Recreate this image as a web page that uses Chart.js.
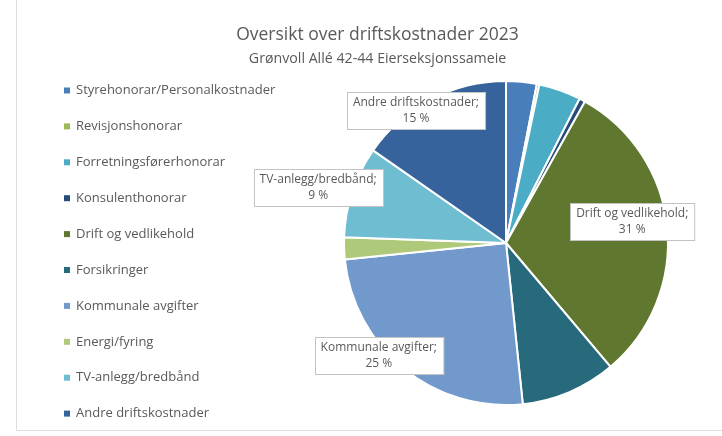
<!DOCTYPE html>
<html lang="no">
<head>
<meta charset="utf-8">
<title>Oversikt over driftskostnader 2023</title>
<script src="https://cdn.jsdelivr.net/npm/chart.js@4.4.1/dist/chart.umd.min.js"></script>
<style>
  html, body { margin: 0; padding: 0; background: #fff; }
  #wrap { position: relative; width: 722px; height: 436px; }
  #frame {
    position: absolute; left: 16px; top: 0; width: 706px; height: 430px;
    border-left: 1px solid #dedede; border-bottom: 1px solid #dedede;
    pointer-events: none;
  }
</style>
</head>
<body>
<div id="wrap">
  <canvas id="kostnader" width="722" height="436"></canvas>
  <div id="frame"></div>
</div>
<script>
// Kategorier og andeler (prosent, lest av diagrammet)
const kategorier = [
  "Styrehonorar/Personalkostnader",
  "Revisjonshonorar",
  "Forretningsførerhonorar",
  "Konsulenthonorar",
  "Drift og vedlikehold",
  "Forsikringer",
  "Kommunale avgifter",
  "Energi/fyring",
  "TV-anlegg/bredbånd",
  "Andre driftskostnader",
];
const andeler = [3.05, 0.25, 4.2, 0.6, 30.7, 9.5, 25.0, 2.2, 9.1, 15.3];
const farger = [
  "#4a7ebb", "#9bbb59", "#4bacc6", "#264a7a", "#5f772e",
  "#276a7c", "#7199cb", "#afc97a", "#6fbdd1", "#37639c",
];

// Hvilke sektorer som får dataetikett (avstand i forhold til radius, dreining i grader)
const etikettPlass = [
  null, null, null, null,
  { avstand: 0.79, drei: -4 },
  null,
  { avstand: 1.05, drei: 9.3 },
  null,
  { avstand: 1.21, drei: -1.9 },
  { avstand: 0.99, drei: -6.6 },
];

const skrift = '"Open Sans", "Noto Sans", sans-serif';
const gra = "#595959";

// Forklaring som egen boks til venstre i oppsettet
function tegnForklaring(chart, boks) {
  const ctx = chart.ctx;
  ctx.save();
  ctx.font = "13px " + skrift;
  ctx.textBaseline = "middle";
  ctx.textAlign = "left";
  kategorier.forEach((navn, i) => {
    const y = 90.5 + i * 35.9;
    ctx.fillStyle = farger[i];
    ctx.fillRect(boks.left + 31, y - 3, 6, 6);
    ctx.fillStyle = gra;
    ctx.fillText(navn, boks.left + 43, y);
  });
  ctx.restore();
}

const forklaring = {
  id: "forklaring",
  beforeInit(chart) {
    const boks = {
      position: "left",
      fullSize: true,
      weight: 1000,
      options: {},
      isHorizontal() {
        return false;
      },
      update(maxWidth, maxHeight) {
        boks.width = 257;
        boks.height = maxHeight;
      },
      draw() {
        tegnForklaring(chart, boks);
      },
    };
    Chart.layouts.addBox(chart, boks);
  },
};

// Dataetiketter i hvite bokser
const dataEtiketter = {
  id: "dataEtiketter",
  afterDatasetsDraw(chart) {
    const ctx = chart.ctx;
    const meta = chart.getDatasetMeta(0);
    const total = andeler.reduce((a, b) => a + b, 0);
    ctx.save();
    ctx.font = "12px " + skrift;
    ctx.textAlign = "center";
    ctx.textBaseline = "middle";
    meta.data.forEach((arc, i) => {
      const plass = etikettPlass[i];
      if (!plass) return;
      const { x, y, startAngle, endAngle, outerRadius } = arc.getProps(
        ["x", "y", "startAngle", "endAngle", "outerRadius"],
        true
      );
      const vinkel = (startAngle + endAngle) / 2 + (plass.drei * Math.PI) / 180;
      const cx = x + Math.cos(vinkel) * outerRadius * plass.avstand;
      const cy = y + Math.sin(vinkel) * outerRadius * plass.avstand;
      const linjer = [
        kategorier[i] + ";",
        Math.round((andeler[i] / total) * 100) + " %",
      ];
      const bredde = Math.max(...linjer.map((l) => ctx.measureText(l).width)) + 12;
      const hoyde = 37;
      const bx = Math.round(cx - bredde / 2) + 0.5;
      const by = Math.round(cy - hoyde / 2) + 0.5;
      ctx.fillStyle = "#ffffff";
      ctx.fillRect(bx, by, bredde, hoyde);
      ctx.strokeStyle = "#c3c3c3";
      ctx.lineWidth = 1;
      ctx.strokeRect(bx, by, bredde, hoyde);
      ctx.fillStyle = gra;
      ctx.fillText(linjer[0], cx, cy - 8);
      ctx.fillText(linjer[1], cx, cy + 8);
    });
    ctx.restore();
  },
};

const chart = new Chart(document.getElementById("kostnader"), {
  type: "pie",
  data: {
    labels: kategorier,
    datasets: [
      {
        data: andeler,
        backgroundColor: farger,
        borderColor: "#ffffff",
        borderWidth: 2,
        radius: 162,
      },
    ],
  },
  options: {
    responsive: false,
    animation: false,
    layout: { padding: { left: 33, right: 0, top: 0, bottom: 21 } },
    plugins: {
      legend: { display: false },
      tooltip: { enabled: false },
      title: {
        display: true,
        text: "Oversikt over driftskostnader 2023",
        color: gra,
        font: { family: skrift, size: 17.5, weight: "normal" },
        padding: { top: 25, bottom: 2 },
      },
      subtitle: {
        display: true,
        text: "Grønvoll Allé 42-44 Eierseksjonssameie",
        color: gra,
        font: { family: skrift, size: 14.2, weight: "normal" },
        padding: { top: 2, bottom: 4 },
      },
    },
  },
  plugins: [forklaring, dataEtiketter],
});
</script>
</body>
</html>
